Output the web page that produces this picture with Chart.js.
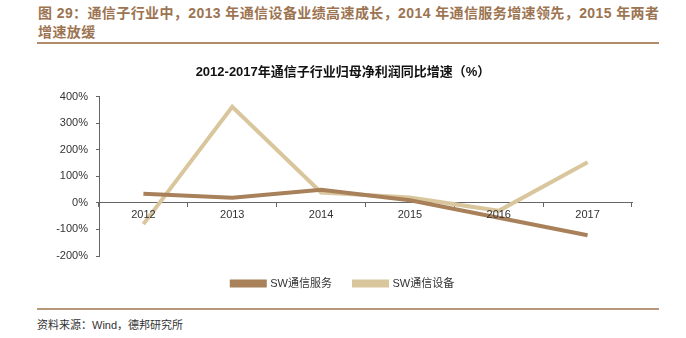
<!DOCTYPE html>
<html>
<head>
<meta charset="utf-8">
<script src="https://cdn.jsdelivr.net/npm/chart.js@4.4.1/dist/chart.umd.min.js"></script>
<style>
  html, body { margin: 0; padding: 0; background: #fff; }
  body { width: 686px; height: 338px; position: relative; overflow: hidden;
         font-family: "Liberation Sans", "Noto Sans CJK SC", sans-serif; }
  .head { position: absolute; left: 38px; top: 4px; width: 630px; color: #9c7451;
          font-size: 14px; font-weight: bold; line-height: 19px; letter-spacing: 0.4px; }
  .rule-top { position: absolute; left: 37px; top: 42px; width: 622px; height: 2px; background: #b08c6a; }
  .rule-bot { position: absolute; left: 37px; top: 308px; width: 622px; height: 2px; background: #b8987a; }
  .src { position: absolute; left: 37px; top: 316px; font-size: 11px; color: #333; }
  #wrap { position: absolute; left: 0; top: 50px; width: 686px; height: 249px; }
</style>
</head>
<body>
<div class="head">图 29：通信子行业中，2013 年通信设备业绩高速成长，2014 年通信服务增速领先，2015 年两者<br>增速放缓</div>
<div class="rule-top"></div>
<div id="wrap"><canvas id="lineChart"></canvas></div>
<div class="rule-bot"></div>
<div class="src">资料来源：Wind，德邦研究所</div>
<script>
const years = ['2012', '2013', '2014', '2015', '2016', '2017'];
const serviceGrowth = [34, 19, 49, 10, -56, -122];
const equipmentGrowth = [-80, 362, 39, 20, -30, 153];
const yTicks = [-200, -100, 0, 100, 200, 300, 400];

const fontFamily = '"Liberation Sans", "Noto Sans CJK SC", sans-serif';
const tickFont = { family: fontFamily, size: 11 };

const ctx = document.getElementById('lineChart').getContext('2d');
const chart = new Chart(ctx, {
  type: 'line',
  data: {
    labels: years,
    datasets: [{
      label: 'SW通信服务',
      data: serviceGrowth,
      borderColor: '#a8815a',
      backgroundColor: '#a8815a',
      borderWidth: 4,
      pointRadius: 0,
      tension: 0,
    }, {
      label: 'SW通信设备',
      data: equipmentGrowth,
      borderColor: '#d9c69d',
      backgroundColor: '#d9c69d',
      borderWidth: 4,
      pointRadius: 0,
      tension: 0,
    }],
  },
  options: {
    responsive: true,
    maintainAspectRatio: false,
    animation: false,
    layout: { padding: { left: 0, right: 0, top: 5, bottom: 0 } },
    plugins: {
      title: {
        display: true,
        text: '2012-2017年通信子行业归母净利润同比增速（%）',
        color: '#111',
        font: { family: fontFamily, size: 13, weight: 'bold' },
        padding: { top: 10, bottom: 16 },
      },
      legend: {
        position: 'bottom',
        labels: {
          boxWidth: 33,
          boxHeight: 4,
          padding: 22,
          color: '#333',
          font: tickFont,
        },
      },
      tooltip: { enabled: false },
    },
    scales: {
      // axis sits on 0%; year labels are drawn above the lines
      x: {
        position: { y: 0 },
        offset: true,
        grid: { display: true, drawOnChartArea: false, offset: true, tickLength: 4, color: '#666' },
        border: { color: '#666', width: 1 },
        ticks: { z: 1, color: '#333', font: tickFont, padding: 2, maxRotation: 0 },
      },
      y: {
        min: -200,
        max: 400,
        afterBuildTicks: (scale) => { scale.ticks = yTicks.map(v => ({ value: v })); },
        afterFit: (scale) => { scale.width = 99; },
        grid: { display: true, drawOnChartArea: false, tickLength: 3, color: '#666' },
        border: { color: '#666', width: 1 },
        ticks: {
          color: '#333',
          font: tickFont,
          padding: 8,
          callback: (v) => v + '%',
        },
      },
      // empty right margin so title and legend stay centred on the page
      yRight: {
        position: 'right',
        min: -200,
        max: 400,
        afterFit: (scale) => { scale.width = 54; },
        grid: { display: false },
        border: { display: false },
        ticks: { display: false },
      },
    },
  },
});
</script>
</body>
</html>
